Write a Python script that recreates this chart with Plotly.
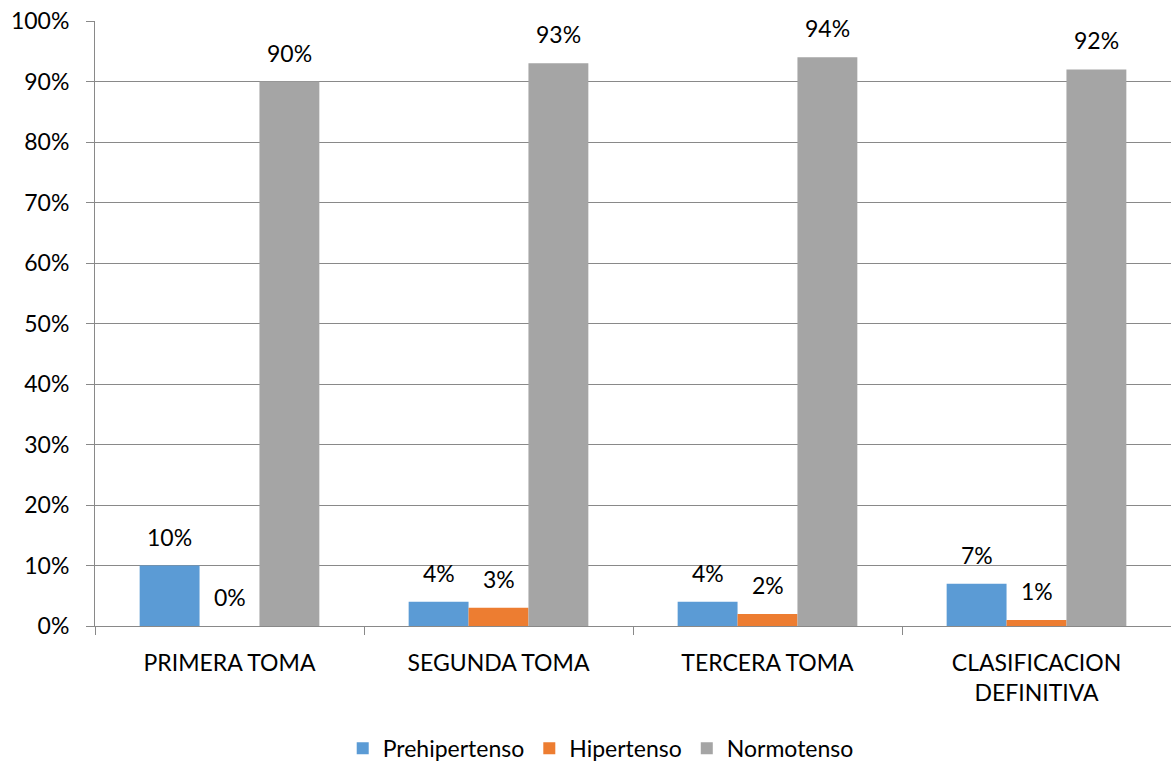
import plotly.graph_objects as go

categories = ["PRIMERA TOMA", "SEGUNDA TOMA", "TERCERA TOMA", "CLASIFICACION<br>DEFINITIVA"]
prehipertenso = [0.10, 0.04, 0.04, 0.07]
hipertenso = [0.00, 0.03, 0.02, 0.01]
normotenso = [0.90, 0.93, 0.94, 0.92]

series = [
    ("Prehipertenso", prehipertenso, "#5B9BD5"),
    ("Hipertenso", hipertenso, "#ED7D31"),
    ("Normotenso", normotenso, "#A5A5A5"),
]

FONT = "Lato, Carlito, Calibri, sans-serif"
FS = 23

fig = go.Figure()
for name, vals, color in series:
    fig.add_trace(go.Bar(
        name=name, x=categories, y=vals, marker_color=color,
        marker_line_width=0,
    ))

# value labels above each bar (group of 3 bars, each ~60px wide)
bar_px = 60
for i, (name, vals, color) in enumerate(series):
    for cat, v in zip(categories, vals):
        fig.add_annotation(
            x=cat, y=v, text=f"{v:.0%}", showarrow=False,
            xanchor="center", yanchor="bottom",
            xshift=(i - 1) * bar_px, yshift=13,
            font=dict(size=FS, color="#000000", family=FONT),
        )

fig.update_layout(
    barmode="group",
    bargap=0.332,
    bargroupgap=0,
    width=1171, height=762,
    margin=dict(l=95, r=0, t=21, b=136, autoexpand=False),
    paper_bgcolor="white", plot_bgcolor="white",
    font=dict(family=FONT, size=FS, color="#000000"),
    legend=dict(orientation="h", x=0.47, xanchor="center",
                yref="container", y=0.018, yanchor="middle",
                font=dict(size=FS), itemwidth=30, traceorder="normal"),
    showlegend=True,
)
fig.update_xaxes(
    type="category", tickson="boundaries", ticks="outside", ticklen=8,
    tickcolor="#898989", showline=True, linecolor="#898989", linewidth=1,
    showgrid=False, tickfont=dict(size=FS), ticklabelstandoff=16,
)
fig.update_yaxes(
    range=[0, 1], dtick=0.1, tickformat=".0%", ticks="outside", ticklen=8,
    tickcolor="#898989", showline=True, linecolor="#898989", linewidth=1,
    showgrid=True, gridcolor="#898989", gridwidth=1, zeroline=False,
    tickfont=dict(size=FS), ticklabelstandoff=12,
)

fig.write_html("out.html")
